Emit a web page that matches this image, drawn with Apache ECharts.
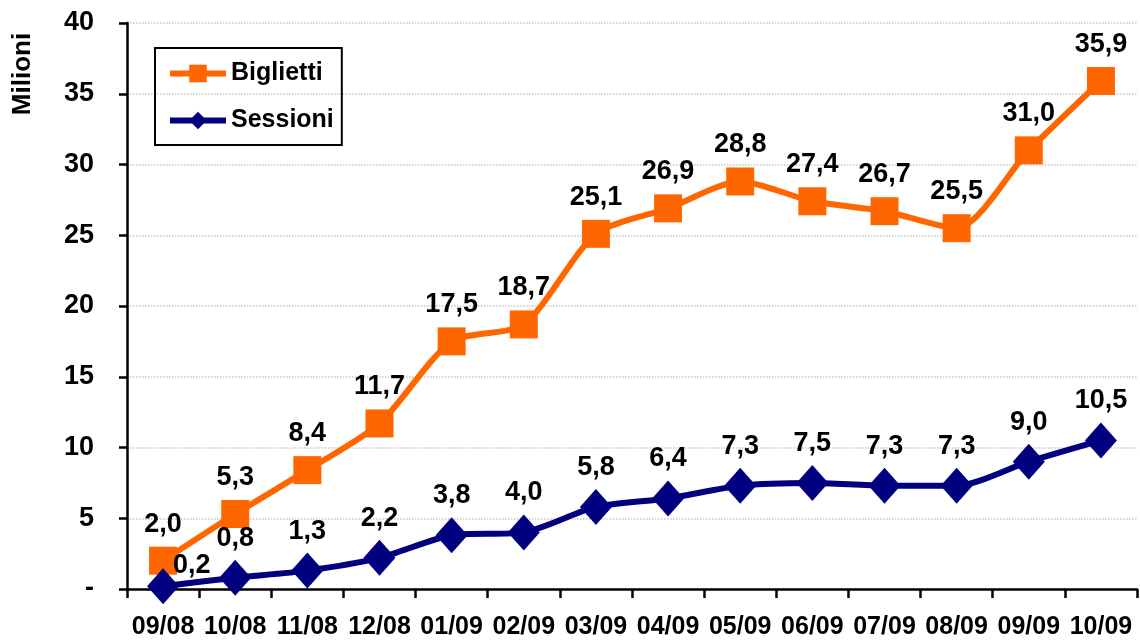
<!DOCTYPE html>
<html>
<head>
<meta charset="utf-8">
<script src="https://cdn.jsdelivr.net/npm/echarts@6/dist/echarts.min.js"></script>
<style>
  html, body { margin: 0; padding: 0; background: #fff; }
  #chart { width: 1140px; height: 642px; }
</style>
</head>
<body>
<div id="chart"></div>
<script>
  const months = ['09/08', '10/08', '11/08', '12/08', '01/09', '02/09', '03/09', '04/09', '05/09', '06/09', '07/09', '08/09', '09/09', '10/09']
  const biglietti = [2.0, 5.3, 8.4, 11.7, 17.5, 18.7, 25.1, 26.9, 28.8, 27.4, 26.7, 25.5, 31.0, 35.9]
  const sessioni = [0.2, 0.8, 1.3, 2.2, 3.8, 4.0, 5.8, 6.4, 7.3, 7.5, 7.3, 7.3, 9.0, 10.5]

  const font = 'Liberation Sans, Arial, sans-serif'
  const fmt = v => v.toFixed(1).replace('.', ',')

  const myChart = echarts.init(document.getElementById('chart'))
  const option = {
    backgroundColor: '#fff',
    animation: false,
    textStyle: { fontFamily: font },
    grid: { left: 127, right: 3, top: 23, bottom: 53 },
    // titolo asse y ruotato
    graphic: [
      {
        type: 'text',
        x: 23,
        y: 74,
        rotation: Math.PI / 2,
        style: {
          text: 'Milioni',
          align: 'center',
          verticalAlign: 'middle',
          fill: '#000',
          font: 'bold 26px Liberation Sans, Arial, sans-serif'
        }
      }
    ],
    legend: {
      orient: 'vertical',
      left: 155,
      top: 48,
      padding: [13, 8, 12, 12],
      itemGap: 22,
      itemWidth: 56,
      itemHeight: 22,
      borderColor: '#000',
      borderWidth: 2,
      lineStyle: { width: 6 },
      textStyle: { fontSize: 25, fontWeight: 'bold', color: '#000', fontFamily: font },
      data: ['Biglietti', 'Sessioni']
    },
    xAxis: {
      type: 'category',
      data: months,
      axisLine: { lineStyle: { color: '#000', width: 2.5 } },
      axisTick: { show: true, length: 9, lineStyle: { color: '#000', width: 2.5 } },
      axisLabel: { interval: 0, fontSize: 25, fontWeight: 'bold', color: '#000', margin: 26, fontFamily: font }
    },
    yAxis: {
      type: 'value',
      min: 0,
      max: 40,
      interval: 5,
      axisLine: { show: true, lineStyle: { color: '#000', width: 2.5 } },
      axisTick: { show: true, length: 8, lineStyle: { color: '#000', width: 2.5 } },
      axisLabel: {
        fontSize: 27, fontWeight: 'bold', color: '#000', margin: 33, fontFamily: font,
        formatter: v => (v === 0 ? '-' : String(v))
      },
      splitLine: { show: true, lineStyle: { color: '#c8c8c8', type: 'dotted', width: 1.5 } }
    },
    series: [
      {
        name: 'Biglietti',
        type: 'line',
        data: biglietti,
        smooth: 0.25,
        symbol: 'rect',
        symbolSize: 28,
        color: '#ff6600',
        lineStyle: { width: 6, color: '#ff6600' },
        itemStyle: { color: '#ff6600' },
        label: {
          show: true, position: 'top', distance: 9,
          fontSize: 27, fontWeight: 'bold', color: '#000', fontFamily: font,
          formatter: p => fmt(p.value)
        }
      },
      {
        name: 'Sessioni',
        type: 'line',
        data: sessioni.map((v, i) => i === 0
          ? { value: v, label: { position: 'right', offset: [-14, -21] } }
          : v),
        smooth: 0.25,
        symbol: 'diamond',
        symbolSize: [32, 36],
        color: '#000080',
        lineStyle: { width: 6, color: '#000080' },
        itemStyle: { color: '#000080' },
        label: {
          show: true, position: 'top', distance: 8,
          fontSize: 27, fontWeight: 'bold', color: '#000', fontFamily: font,
          formatter: p => fmt(p.value)
        }
      }
    ]
  }
  option && myChart.setOption(option)
</script>
</body>
</html>
